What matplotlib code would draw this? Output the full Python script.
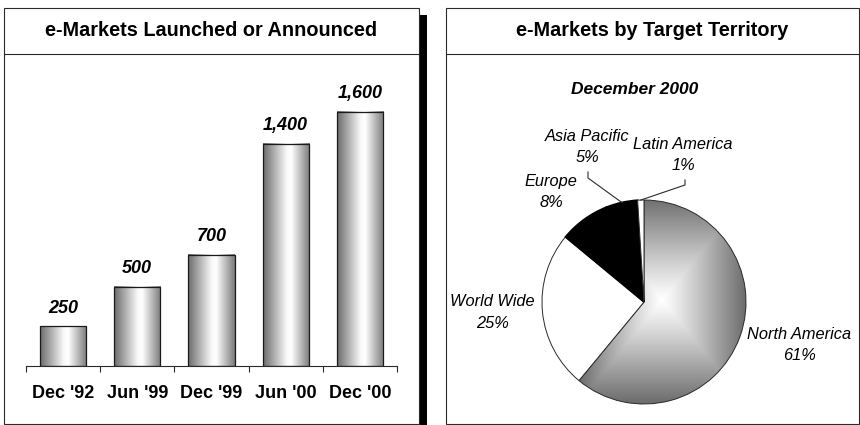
import numpy as np
import matplotlib.pyplot as plt
from matplotlib.patches import Rectangle
from matplotlib.lines import Line2D

plt.rcParams['font.family'] = ['Liberation Sans', 'DejaVu Sans']

# e-markets launched or announced
periods = ["Dec '92", "Jun '99", "Dec '99", "Jun '00", "Dec '00"]
launched = [250, 500, 700, 1400, 1600]

# share by target territory, December 2000
territories = ['North America', 'World Wide', 'Europe', 'Asia Pacific', 'Latin America']
shares = [61, 25, 8, 5, 1]

W, H = 860, 425
EDGE = '#2a2a2a'


def fx(px):
    return px / W


def fy(py):
    return 1 - py / H


fig = plt.figure(figsize=(W / 100, H / 100), dpi=100)


def panel(x0, y0, x1, y1, header, title):
    fig.add_artist(Rectangle((fx(x0), fy(y1)), fx(x1) - fx(x0), fy(y0) - fy(y1),
                             transform=fig.transFigure, fill=False, ec=EDGE, lw=0.8))
    fig.add_artist(Line2D([fx(x0), fx(x1)], [fy(header)] * 2,
                          transform=fig.transFigure, color=EDGE, lw=0.8))
    fig.text(fx((x0 + x1) / 2), fy((y0 + header) / 2), title, ha='center', va='center',
             fontsize=14.3, fontweight='bold')


# drop shadow on the right of the left panel
fig.add_artist(Rectangle((fx(420), fy(425)), fx(7), fy(15) - fy(425),
                         transform=fig.transFigure, color='black', lw=0))
panel(4, 8, 419, 424, 54, 'e-Markets Launched or Announced')
panel(446, 8, 859, 424, 54, 'e-Markets by Target Territory')

# ---- bar chart ----
ax = fig.add_axes([fx(26), fy(366), fx(397) - fx(26), fy(80) - fy(366)])
x = np.arange(len(periods))
bars = ax.bar(x, launched, width=0.62, facecolor='none', edgecolor='#1a1a1a', lw=0.9, zorder=3)

u = np.linspace(0, 1, 256)
shade = np.interp(u, [0, 0.5, 0.6, 1], [0.42, 0.97, 1.0, 0.48])
for b, v in zip(bars, launched):
    ax.imshow(shade[np.newaxis, :], cmap='gray', vmin=0, vmax=1, aspect='auto',
              extent=(b.get_x(), b.get_x() + b.get_width(), 0, b.get_height()), zorder=2)
    ax.annotate(f'{v:,}', (b.get_x() + b.get_width() / 2, v), xytext=(0, 13),
                textcoords='offset points', ha='center', va='center',
                fontsize=13, fontweight='bold', fontstyle='italic')

ax.set_xlim(-0.5, len(periods) - 0.5)
ax.set_ylim(0, 1800)
for s in ['top', 'left', 'right']:
    ax.spines[s].set_visible(False)
ax.spines['bottom'].set_color(EDGE)
ax.spines['bottom'].set_linewidth(0.8)
ax.set_yticks([])
ax.set_xticks(x, periods, fontsize=13, fontweight='bold')
ax.set_xticks(np.arange(-0.5, len(periods)), minor=True)
ax.tick_params(axis='x', which='major', length=0, pad=14)
ax.tick_params(axis='x', which='minor', length=4, width=0.8, color=EDGE, direction='out')
ax.patch.set_visible(False)

# ---- pie chart ----
cx, cy, R = 644, 302, 102
pax = fig.add_axes([fx(446), fy(424), fx(859) - fx(446), fy(55) - fy(424)])
wedges, _ = pax.pie(shares, colors=['none', 'white', 'black', 'black', 'white'],
                    startangle=90, counterclock=False, radius=1,
                    wedgeprops=dict(ec=EDGE, lw=0.7))
# Europe and Asia Pacific share one solid black block
for w in wedges[2:4]:
    w.set_edgecolor('black')
    w.set_linewidth(1.2)

# rectangular light-to-grey fill for the North America slice
gx, gy = np.meshgrid(np.linspace(-1, 1, 500), np.linspace(-1, 1, 500))
t = np.maximum(np.abs(gx - 0.18) / 0.85, np.abs(gy - 0.02) / 1.05)
fill = 1 - 0.6 * np.clip(t, 0, 1) ** 1.1
im = pax.imshow(fill, cmap='gray', vmin=0, vmax=1, origin='lower',
                extent=(-1, 1, -1, 1), zorder=0)
im.set_clip_path(wedges[0])

pax.set_xlim((446 - cx) / R, (859 - cx) / R)
pax.set_ylim((cy - 424) / R, (cy - 55) / R)
pax.set_aspect('equal')
pax.axis('off')


def to_data(px, py):
    return (px - cx) / R, (cy - py) / R


label_px = {
    'North America': (799, 345),
    'World Wide': (492, 312.5),
    'Europe': (551, 191.5),
    'Asia Pacific': (587, 147),
    'Latin America': (683, 154.5),
}
for name, pct in zip(territories, shares):
    lx, ly = to_data(*label_px[name])
    pax.text(lx, ly, f'{name}\n{pct}%', ha='center', va='center', fontsize=11.8,
             fontstyle='italic', linespacing=1.5)

# leader lines for the two thin slices
elbows = {'Asia Pacific': [(588, 172), (588, 178)], 'Latin America': [(685, 180), (685, 185)]}
for name, pts in elbows.items():
    w = wedges[territories.index(name)]
    mid = np.deg2rad((w.theta1 + w.theta2) / 2)
    xs = [to_data(*p)[0] for p in pts] + [np.cos(mid)]
    ys = [to_data(*p)[1] for p in pts] + [np.sin(mid)]
    pax.plot(xs, ys, color=EDGE, lw=0.8)

fig.text(fx(634.5), fy(90), 'December 2000', ha='center', va='center',
         fontsize=12.5, fontweight='bold', fontstyle='italic')

fig.savefig('out.png', dpi=100)
